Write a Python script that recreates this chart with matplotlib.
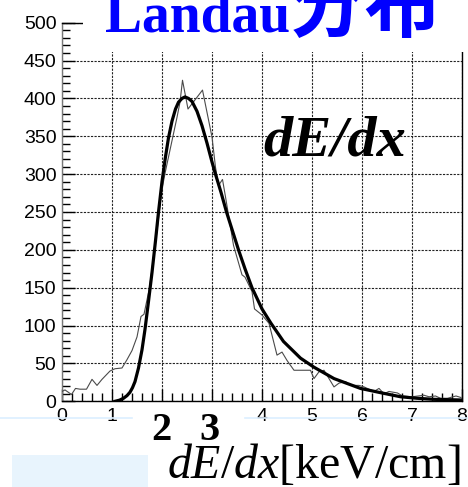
import matplotlib
matplotlib.use("Agg")
import matplotlib.pyplot as plt
from matplotlib.patches import Rectangle
from matplotlib.lines import Line2D
from matplotlib.ticker import MultipleLocator

# measured histogram (thin line)
hist_x = [0, 0.06, 0.19, 0.27, 0.36, 0.49, 0.6, 0.7, 0.8, 0.96, 1.06, 1.2, 1.3,
          1.4, 1.5, 1.58, 1.64, 1.75, 1.9, 2.0, 2.06, 2.3, 2.36, 2.41, 2.52, 2.81,
          3.0, 3.07, 3.13, 3.21, 3.27, 3.37, 3.43, 3.6, 3.66, 3.8, 3.85, 4.0,
          4.14, 4.3, 4.4, 4.5, 4.64, 4.97, 5.04, 5.14, 5.24, 5.34, 5.44, 5.54,
          5.67, 5.77, 5.94, 6.04, 6.24, 6.34, 6.44, 6.54, 6.71, 6.81, 7.0, 7.24,
          7.34, 7.47, 7.57, 7.71, 7.88, 7.98]
hist_y = [13, 15, 9, 17, 16, 16, 29, 21, 29, 40, 43, 44, 55,
          67, 85, 112, 115, 150, 225, 280, 301, 375, 395, 424, 386, 411,
          349, 309, 285, 293, 270, 230, 206, 167, 164, 145, 122, 114,
          103, 61, 65, 54, 41, 41, 30, 39, 41, 30, 19, 24,
          26, 21, 21, 19, 13, 17, 10, 13, 11, 7, 6, 8,
          6, 7, 4, 4, 7, 5]

# Landau fit (thick line)
fit_x = [1.06, 1.15, 1.23, 1.3, 1.36, 1.41, 1.46, 1.53, 1.6, 1.66, 1.73, 1.8,
         1.87, 1.93, 2.0, 2.07, 2.13, 2.2, 2.27, 2.33, 2.4, 2.46, 2.53, 2.6,
         2.7, 2.8, 2.9, 3.0, 3.06, 3.18, 3.29, 3.41, 3.53, 3.66, 3.8, 4.0,
         4.18, 4.43, 4.77, 5.04, 5.44, 5.97, 6.4, 6.77, 7.1, 7.44, 8.0]
fit_y = [0, 1.5, 4, 7.5, 12, 18, 26, 44, 68, 95, 132, 170,
         212, 250, 290, 323, 348, 370, 386, 395, 400, 402, 400, 396,
         383, 364, 341, 316, 302, 276, 250, 225, 200, 175, 150, 122,
         103, 79, 57, 45, 30, 17, 11, 6, 4, 2.6, 1.7]

x_ticks = [0, 1, 2, 3, 4, 5, 6, 7, 8]
x_tick_labels = ["0", "1", "", "", "4", "5", "6", "7", "8"]
y_ticks = [0, 50, 100, 150, 200, 250, 300, 350, 400, 450, 500]

W, H = 468, 487


def fx(px):
    return px / W


def fy(py):
    return 1 - py / H


plt.rcParams["mathtext.fontset"] = "custom"
plt.rcParams["mathtext.it"] = "Liberation Serif:italic"
plt.rcParams["mathtext.rm"] = "Liberation Serif"

fig = plt.figure(figsize=(W / 100, H / 100), dpi=100)
ax = fig.add_axes([fx(62), fy(401.3), (462 - 62) / W, (401.3 - 22.7) / H])

ax.plot(hist_x, hist_y, color="#4a4a4a", lw=0.8, zorder=3)
ax.plot(fit_x, fit_y, color="black", lw=2.3, zorder=4)

ax.set_xlim(0, 8)
ax.set_ylim(0, 500)
ax.set_xticks(x_ticks)
ax.set_xticklabels(x_tick_labels)
ax.set_yticks(y_ticks)
ax.xaxis.set_minor_locator(MultipleLocator(0.2))
ax.yaxis.set_minor_locator(MultipleLocator(10))
ax.tick_params(which="both", direction="in", labelsize=14, colors="black")
ax.tick_params(which="major", length=9, width=1)
ax.tick_params(which="minor", length=5.5, width=1)
ax.tick_params(axis="x", pad=5)
ax.tick_params(axis="y", pad=4)
for lab in ax.get_xticklabels() + ax.get_yticklabels():
    lab.set_family("Liberation Sans")

ax.grid(True, which="major", color="#222222", linestyle=(0, (2, 1.2)), lw=0.8)
for sp in ax.spines.values():
    sp.set_linewidth(1)
ax.spines["left"].set_color("#777777")

ax.text(fx(263), fy(155), "dE/dx", transform=fig.transFigure,
        family="Liberation Serif", weight="bold", style="italic",
        fontsize=42, va="baseline", ha="left")

# white panel behind the title
fig.add_artist(Rectangle((fx(83), fy(52)), 1 - fx(83), 52 / H,
                         transform=fig.transFigure, facecolor="white",
                         edgecolor="none", zorder=5))
fig.text(fx(105), fy(32), "Landau", family="Liberation Serif", weight="bold",
         color="#0000ff", fontsize=40, va="baseline", ha="left", zorder=6)
fig.text(fx(289), fy(31), "分布", family="Noto Sans CJK SC", weight="bold",
         color="#0000ff", fontsize=55, va="baseline", ha="left", zorder=6)

# slide decoration at the bottom
fig.add_artist(Line2D([0, fx(132)], [fy(418), fy(418)], color="#dcefff",
                      lw=1.2, transform=fig.transFigure, zorder=1))
fig.add_artist(Line2D([fx(245), 1], [fy(418), fy(418)], color="#dcefff",
                      lw=1.2, transform=fig.transFigure, zorder=1))
fig.add_artist(Rectangle((fx(12), 0), fx(148) - fx(12), 32 / H,
                         transform=fig.transFigure, facecolor="#e8f4fd",
                         edgecolor="none", zorder=1))

fig.text(fx(161), fy(440), "2", family="Liberation Serif", weight="bold",
         fontsize=29, va="baseline", ha="center", zorder=6)
fig.text(fx(209), fy(440), "3", family="Liberation Serif", weight="bold",
         fontsize=29, va="baseline", ha="center", zorder=6)

fig.text(fx(461), fy(478), r"$\it{dE/dx}$[keV/cm]", family="Liberation Serif",
         fontsize=34.5, va="baseline", ha="right", zorder=6)

fig.savefig("out.png", dpi=100)
